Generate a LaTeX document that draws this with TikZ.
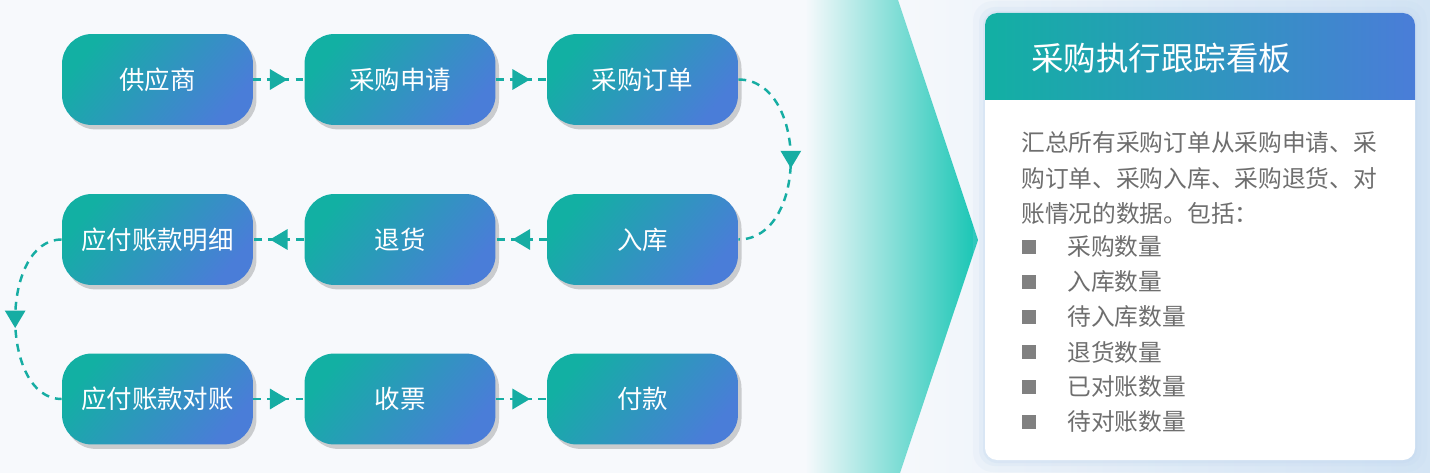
\documentclass[tikz,border=0pt]{standalone}
\usepackage{fontspec}
\newfontfamily\cjk{Noto Sans CJK SC}
\usetikzlibrary{arrows.meta, decorations.markings, shadows}

\definecolor{tealA}{HTML}{12B0A3}
\definecolor{blueA}{HTML}{4A7DD8}
\definecolor{lineT}{HTML}{16ADA3}
\definecolor{bgL}{HTML}{F7F9FC}
\definecolor{bgR}{HTML}{D3E4F4}
\definecolor{glowB}{HTML}{C2D7F0}
\definecolor{txtG}{HTML}{6E6E6E}
\definecolor{bulG}{HTML}{808080}
\definecolor{chevT}{HTML}{17C5B4}

\begin{document}
\begin{tikzpicture}[x=0.02cm, y=-0.02cm, font=\cjk,
    stepnode/.style={rounded corners=0.6cm, minimum width=3.82cm, minimum height=1.82cm,
        top color=tealA, bottom color=blueA, shading angle=50, text=white,
        font=\cjk\fontsize{14.5}{17}\selectfont,
        drop shadow={shadow xshift=2pt, shadow yshift=-2.5pt, fill=black, opacity=0.18}},
    flow/.style={lineT, line width=1.4pt, dash pattern=on 4.5pt off 3.5pt,
        postaction={decorate}, decoration={markings,
        mark=at position 0.5 with {\arrow[xshift=5pt]{Triangle[length=10pt, width=11.5pt]}}}},
    bulsq/.style={fill=bulG, minimum size=0.28cm, inner sep=0pt},
    bodytxt/.style={anchor=west, inner sep=0pt, text=txtG, font=\cjk\fontsize{13.5}{16}\selectfont}]
    \useasboundingbox (0,0) rectangle (1430,473);

    % Hintergrund
    \fill[bgL] (0,0) rectangle (1430,473);
    \shade[left color=bgL, right color=bgR] (880,0) rectangle (1430,473);

    % Pfeil (Chevron)
    \shade[left color=bgL, right color=chevT] (805,0) -- (898,0) -- (978,240) -- (900,473) -- (805,473) -- cycle;

    % Prozess
    \node[stepnode] (gys) at (157.5,79.5) {供应商};
    \node[stepnode] (cgsq) at (400,79.5) {采购申请};
    \node[stepnode] (cgdd) at (642.5,79.5) {采购订单};
    \node[stepnode] (yfmx) at (157.5,239.5) {应付账款明细};
    \node[stepnode] (th) at (400,239.5) {退货};
    \node[stepnode] (rk) at (642.5,239.5) {入库};
    \node[stepnode] (yfdz) at (157.5,399) {应付账款对账};
    \node[stepnode] (sp) at (400,399) {收票};
    \node[stepnode] (fk) at (642.5,399) {付款};

    \draw[flow] (gys) -- (cgsq);
    \draw[flow] (cgsq) -- (cgdd);
    \draw[flow] (cgdd.east) .. controls +(70,0) and +(70,0) .. (rk.east);
    \draw[flow] (rk) -- (th);
    \draw[flow] (th) -- (yfmx);
    \draw[flow] (yfmx.west) .. controls +(-62,0) and +(-62,0) .. (yfdz.west);
    \draw[flow] (yfdz) -- (sp);
    \draw[flow] (sp) -- (fk);

    % Karte
    \fill[glowB, opacity=0.12, rounded corners=0.4cm] (973,1) rectangle (1427,472);
    \fill[glowB, opacity=0.18, rounded corners=0.32cm] (979,7) rectangle (1421,466);
    \fill[glowB, opacity=0.25, rounded corners=0.28cm] (983,11) rectangle (1417,463);
    \fill[white, rounded corners=0.24cm] (985,13) rectangle (1415,460);
    \begin{scope}
        \clip[rounded corners=0.24cm] (985,13) rectangle (1415,460);
        \shade[left color=tealA, right color=blueA] (985,13) rectangle (1415,100);
    \end{scope}
    \node[anchor=west, inner sep=0pt, text=white, font=\cjk\fontsize{18.5}{22}\selectfont] (titel) at (1031,58) {采购执行跟踪看板};

    \node[bodytxt] (z1) at (1021,143) {汇总所有采购订单从采购申请、采};
    \node[bodytxt] (z2) at (1021,178) {购订单、采购入库、采购退货、对};
    \node[bodytxt] (z3) at (1021,213) {账情况的数据。包括：};

    \node[bulsq] (b1) at (1029,247) {};
    \node[bodytxt] (p1) at (1067,247) {采购数量};
    \node[bulsq] (b2) at (1029,282) {};
    \node[bodytxt] (p2) at (1067,282) {入库数量};
    \node[bulsq] (b3) at (1029,317) {};
    \node[bodytxt] (p3) at (1067,317) {待入库数量};
    \node[bulsq] (b4) at (1029,352) {};
    \node[bodytxt] (p4) at (1067,352) {退货数量};
    \node[bulsq] (b5) at (1029,387) {};
    \node[bodytxt] (p5) at (1067,387) {已对账数量};
    \node[bulsq] (b6) at (1029,422) {};
    \node[bodytxt] (p6) at (1067,422) {待对账数量};
\end{tikzpicture}
\end{document}
